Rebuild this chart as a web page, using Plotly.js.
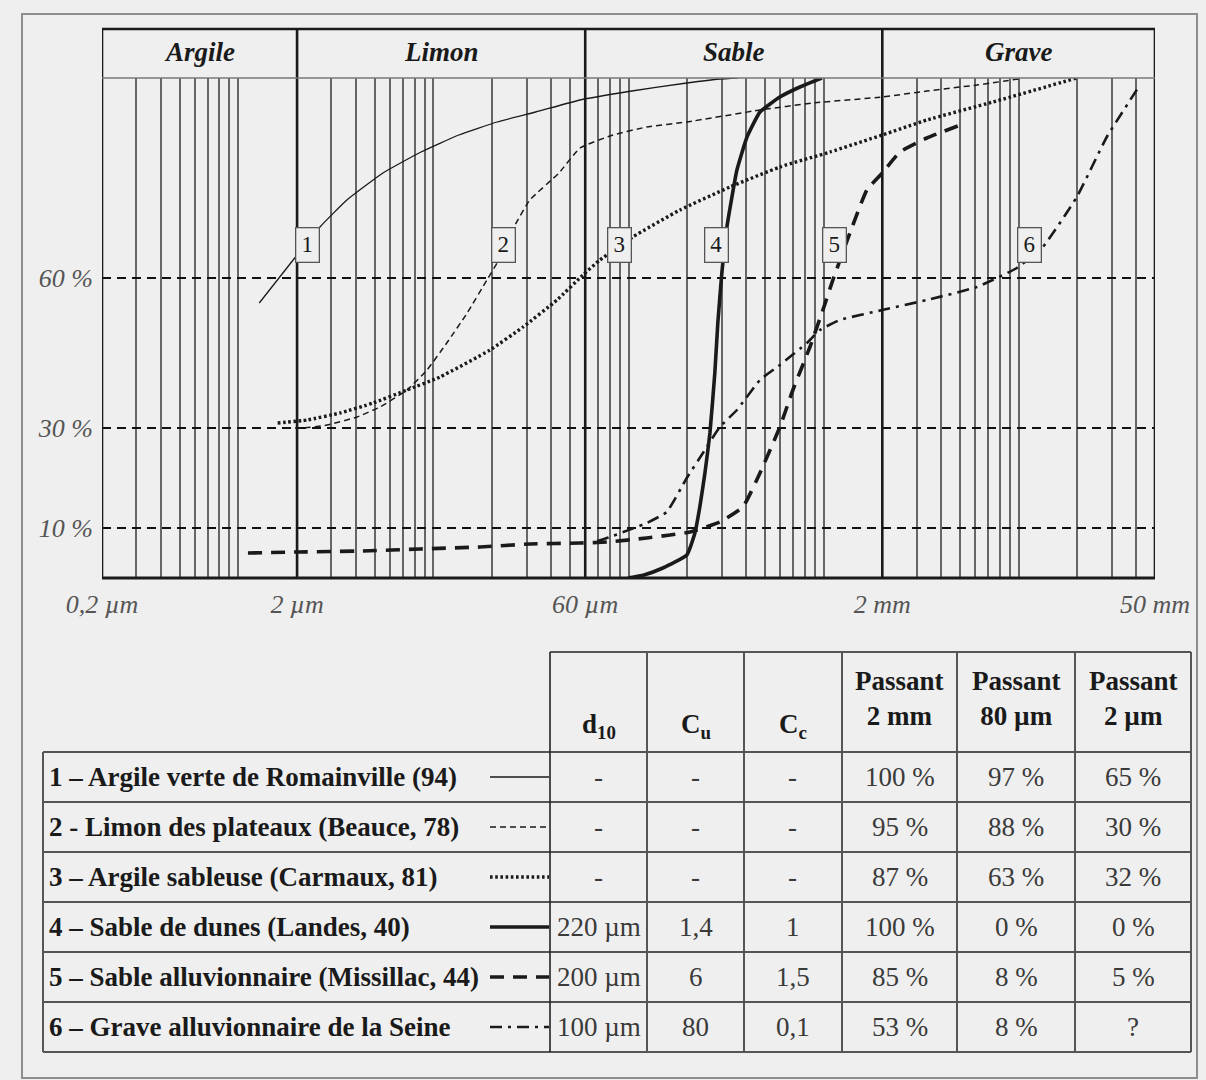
<!DOCTYPE html>
<html><head><meta charset="utf-8">
<script src="https://cdn.plot.ly/plotly-3.0.1.min.js"></script>
<style>html,body{margin:0;padding:0;background:#efefef;}#chart{width:1206px;height:1080px;}</style>
</head><body><div id="chart"></div>
<script>
// ---------------- DATA ----------------
const classNames = ["Argile", "Limon", "Sable", "Grave"];
const classBounds = [0.2, 2, 60, 2000, 50000]; // µm
const xTickVals = [0.2, 2, 60, 2000, 50000];
const xTickText = ["0,2 µm", "2 µm", "60 µm", "2 mm", "50 mm"];
const yTickVals = [10, 30, 60];
const yTickText = ["10 %", "30 %", "60 %"];
const gridVals = [0.2,0.3,0.4,0.5,0.6,0.7,0.8,0.9,1,
  2,3,4,5,6,7,8,9,10,
  20,30,40,50,60,70,80,90,100,
  200,300,400,500,600,700,800,900,1000,
  2000,3000,4000,5000,6000,7000,8000,9000,10000,
  20000,30000,40000,50000];

// grain size (µm) / percent passing for each soil
const s1Size = [1.28, 2.0, 2.62, 3.6, 5.51, 8.63, 13.5, 21.2, 33.5, 56.4, 100, 199, 294, 364];
const s1Pass = [55, 64.6, 70.2, 75.6, 81, 85.2, 88.6, 91.2, 93.2, 95.6, 97.3, 99, 99.8, 100];

const s2Size = [1.73, 2.14, 2.85, 4.06, 5.32, 7.32, 9.27, 11.7, 14.9, 18.8, 21.2, 26.2, 31.2, 44, 56.4, 83.2, 124, 199, 472, 882, 2000, 3385, 6110, 10000];
const s2Pass = [30, 30, 30.6, 32.2, 34.2, 37.6, 41.6, 47, 53, 59.6, 63, 70.6, 75.6, 81, 86, 88.6, 90.2, 91.2, 93.6, 95, 96.2, 97.4, 98.6, 99.8];

const s3Size = [1.59, 2.25, 3.32, 4.9, 7.32, 10.8, 19.5, 28.8, 43, 58.4, 71.4, 105, 183.5, 331, 597, 1078, 2000, 3385, 7380, 19870];
const s3Pass = [31, 31.6, 33, 35, 37.6, 40.2, 45.6, 50.2, 55.6, 60.6, 63.6, 68.2, 73.6, 78.2, 82.2, 85.2, 88.6, 91.6, 95.2, 100];

const s4Size = [99.4, 120, 150, 199, 219, 232, 246.5, 261.5, 277, 287, 301, 319.5, 339, 359.5, 405, 472, 597, 756, 980];
const s4Pass = [0, 0.6, 2, 4.6, 9, 14.2, 21, 29, 41, 51, 61, 70.2, 76.2, 81.6, 88.2, 93.2, 96.2, 98.2, 100];

const s5Size = [1.12, 2, 4.35, 8.53, 17.3, 31.2, 56.4, 77.5, 124, 206.5, 294, 386, 472, 597, 696, 851, 992, 1116, 1364, 1667, 2000, 2460, 3385, 5180];
const s5Pass = [5, 5.2, 5.4, 5.8, 6.2, 6.8, 7, 7.2, 8, 9.2, 11.2, 14.2, 21, 30.2, 37.6, 46.2, 53.6, 59.6, 69, 77.6, 81, 85.2, 88, 90.8];

const s6Size = [69, 80.3, 124, 157, 199, 240.7, 294, 359.5, 472, 597, 821, 958, 1212, 2000, 3385, 6110, 9790, 13300, 19870, 28300, 41830];
const s6Pass = [7.4, 8.2, 11, 13.2, 20, 25, 30.2, 33.6, 39.6, 42.6, 47, 49.6, 51.6, 53.6, 55.6, 58.2, 62, 66.2, 76.2, 88.2, 98.6];

const seriesLabels = [
  "1 – Argile verte de Romainville (94)",
  "2 - Limon des plateaux (Beauce, 78)",
  "3 – Argile sableuse (Carmaux, 81)",
  "4 – Sable de dunes (Landes, 40)",
  "5 – Sable alluvionnaire (Missillac, 44)",
  "6 – Grave alluvionnaire de la Seine"
];
const curveNumbers = ["1", "2", "3", "4", "5", "6"];
const tableHeaders = ["d<sub>10</sub>", "C<sub>u</sub>", "C<sub>c</sub>", "Passant<br>2 mm", "Passant<br>80 µm", "Passant<br>2 µm"];
const d10Vals = ["-", "-", "-", "220 µm", "200 µm", "100 µm"];
const cuVals = ["-", "-", "-", "1,4", "6", "80"];
const ccVals = ["-", "-", "-", "1", "1,5", "0,1"];
const pass2mm = ["100 %", "95 %", "87 %", "100 %", "85 %", "53 %"];
const pass80um = ["97 %", "88 %", "63 %", "0 %", "8 %", "8 %"];
const pass2um = ["65 %", "30 %", "32 %", "0 %", "5 %", "?"];

// ---------------- LAYOUT / STYLE ----------------
const W = 1206, H = 1080;
const PX = v => v / W, PY = v => 1 - v / H;
const FONT = "Liberation Serif";
const INK = "#1a1a1a";

const sizes = [s1Size, s2Size, s3Size, s4Size, s5Size, s6Size];
const passes = [s1Pass, s2Pass, s3Pass, s4Pass, s5Pass, s6Pass];
const lineStyles = [
  {width: 1.3, dash: "solid"},
  {width: 1.5, dash: "6px,4px"},
  {width: 3.4, dash: "2.6px,2.6px"},
  {width: 3.6, dash: "solid"},
  {width: 3.6, dash: "14px,9px"},
  {width: 2.6, dash: "12px,6px,3px,6px"}
];
const boxPos = [[2.26, 66.5], [22.9, 66.5], [90.4, 66.5], [284, 66.5], [1143, 66.5], [11350, 66.5]];

const traces = sizes.map((xs, i) => ({
  type: "scatter", mode: "lines", x: xs, y: passes[i],
  line: {color: INK, width: lineStyles[i].width, dash: lineStyles[i].dash, shape: "spline", smoothing: 0.4},
  hoverinfo: "skip", showlegend: false
}));

const plotTop = 78, plotBot = 578, headTop = 29;
const shapes = [];
const annotations = [];
const ann = o => annotations.push(Object.assign({showarrow: false, xanchor: "center", yanchor: "middle"}, o));

// outer frame
shapes.push({type: "rect", xref: "paper", yref: "paper", x0: PX(22), x1: PX(1197), y0: PY(1078), y1: PY(14),
  line: {color: "#8e8e8e", width: 2}, fillcolor: "rgba(0,0,0,0)"});
// header band and class boundaries
classBounds.forEach(b => shapes.push({type: "line", xref: "x", yref: "paper", x0: b, x1: b, y0: PY(plotBot), y1: PY(headTop),
  line: {color: INK, width: 2.6}}));
shapes.push({type: "line", xref: "x", yref: "paper", x0: classBounds[0], x1: classBounds[4], y0: PY(headTop), y1: PY(headTop), line: {color: INK, width: 2.6}});
shapes.push({type: "line", xref: "x", yref: "paper", x0: classBounds[0], x1: classBounds[4], y0: PY(plotTop), y1: PY(plotTop), line: {color: "#777", width: 1.5}});
shapes.push({type: "line", xref: "x", yref: "paper", x0: classBounds[0], x1: classBounds[4], y0: PY(plotBot), y1: PY(plotBot), line: {color: INK, width: 3}});

classNames.forEach((n, i) => ann({
  xref: "x", yref: "paper",
  x: (Math.log10(classBounds[i]) + Math.log10(classBounds[i + 1])) / 2, y: PY(52),
  text: n, font: {family: FONT, size: 27, color: INK, weight: "bold", style: "italic"}
}));

// curve number boxes
curveNumbers.forEach((n, i) => ann({
  xref: "x", yref: "y", x: Math.log10(boxPos[i][0]), y: boxPos[i][1], text: n,
  font: {family: FONT, size: 23, color: INK}, bgcolor: "#efefef", bordercolor: "#555", borderwidth: 1.3,
  width: 20, height: 31, borderpad: 1
}));

// ---------------- TABLE ----------------
const colX = [550, 647, 744, 842, 957, 1075, 1191];
const rowY = [752, 802, 852, 902, 952, 1002, 1052];
const labelLeft = 43, headerTop = 652;
const gridLine = {color: "#555", width: 2};
shapes.push({type: "line", xref: "paper", yref: "paper", x0: PX(colX[0]), x1: PX(colX[6]), y0: PY(headerTop), y1: PY(headerTop), line: gridLine});
rowY.forEach(y => shapes.push({type: "line", xref: "paper", yref: "paper", x0: PX(labelLeft), x1: PX(colX[6]), y0: PY(y), y1: PY(y), line: gridLine}));
shapes.push({type: "line", xref: "paper", yref: "paper", x0: PX(labelLeft), x1: PX(labelLeft), y0: PY(rowY[0]), y1: PY(rowY[6]), line: gridLine});
colX.forEach((x, i) => shapes.push({type: "line", xref: "paper", yref: "paper", x0: PX(x), x1: PX(x), y0: PY(headerTop), y1: PY(rowY[6]),
  line: {color: i === 0 ? "#222" : "#555", width: i === 0 ? 1.6 : 2}}));

const colCenters = colX.slice(0, 6).map((x, i) => (x + colX[i + 1]) / 2);
tableHeaders.forEach((t, i) => ann({
  xref: "paper", yref: "paper", x: PX(colCenters[i]), y: PY(i < 3 ? 726 : 698), text: t,
  font: {family: FONT, size: 27, color: INK, weight: "bold"}, align: "center"
}));
const columns = [d10Vals, cuVals, ccVals, pass2mm, pass80um, pass2um];
seriesLabels.forEach((lab, r) => {
  const yc = (rowY[r] + rowY[r + 1]) / 2;
  ann({xref: "paper", yref: "paper", x: PX(47), y: PY(yc), xanchor: "left", text: lab,
    font: {family: FONT, size: 27, color: INK, weight: "bold"}});
  columns.forEach((col, c) => ann({xref: "paper", yref: "paper", x: PX(colCenters[c]), y: PY(yc), text: col[r],
    font: {family: FONT, size: 27, color: "#3a3a3a"}}));
  shapes.push({type: "line", xref: "paper", yref: "paper", x0: PX(490), x1: PX(549), y0: PY(yc), y1: PY(yc),
    line: {color: INK, width: lineStyles[r].width, dash: lineStyles[r].dash}});
});

const layout = {
  width: W, height: H, autosize: false,
  margin: {l: 0, r: 0, t: 0, b: 0},
  paper_bgcolor: "#efefef", plot_bgcolor: "#efefef",
  showlegend: false,
  xaxis: {
    type: "log", domain: [PX(102), PX(1155)],
    range: [Math.log10(classBounds[0]), Math.log10(classBounds[4])],
    tickmode: "array", tickvals: xTickVals, ticktext: xTickText,
    showgrid: false, zeroline: false, showline: false, ticks: "",
    minor: {tickmode: "array", tickvals: gridVals, showgrid: true, gridcolor: "#666", gridwidth: 2, ticks: ""},
    ticklabelstandoff: 8,
    tickfont: {family: FONT, size: 26, color: "#555", style: "italic"}
  },
  yaxis: {
    domain: [PY(plotBot), PY(plotTop)], range: [0, 100],
    tickmode: "array", tickvals: yTickVals, ticktext: yTickText,
    showgrid: true, gridcolor: "#111", gridwidth: 2, griddash: "9px,6px",
    zeroline: false, showline: false, ticks: "", ticklabelstandoff: 8,
    tickfont: {family: FONT, size: 26, color: "#555", style: "italic"}
  },
  shapes: shapes,
  annotations: annotations
};

Plotly.newPlot("chart", traces, layout, {displayModeBar: false, staticPlot: true});
</script>
</body></html>
